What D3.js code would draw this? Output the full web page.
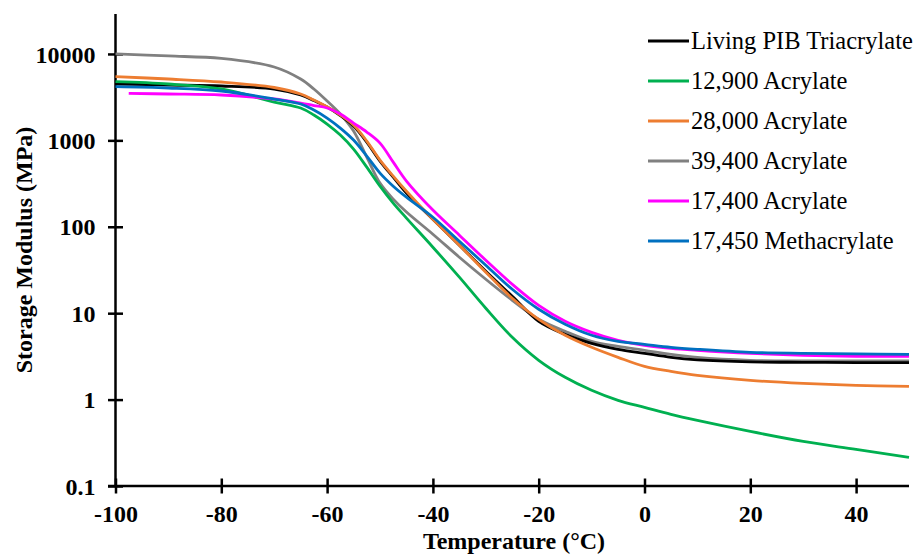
<!DOCTYPE html>
<html>
<head>
<meta charset="utf-8">
<script src="https://cdn.jsdelivr.net/npm/d3@7/dist/d3.min.js"></script>
<style>
  body { margin: 0; background: #fff; }
  svg { display: block; }
  .tick text { font-family: "Liberation Serif", "Times New Roman", serif; font-weight: bold; font-size: 24px; fill: #000; }
  .title { font-family: "Liberation Serif", "Times New Roman", serif; font-weight: bold; font-size: 24px; fill: #000; }
  .legend text { font-family: "Liberation Serif", "Times New Roman", serif; font-size: 24.5px; fill: #000; }
</style>
</head>
<body>
<div id="chart"></div>
<script>
// temperatures (°C) shared by most curves
var temps = [-100, -90, -80, -70, -65, -62.5, -60, -57.5, -55, -52.5, -50, -47.5, -45, -40, -35, -30, -25, -20, -15, -10, -5, 0, 5, 10, 20, 30, 40, 50];
// the 17,400 acrylate trace starts a little later
var tempsPink = [-97.5, -90, -80, -70, -65, -62.5, -60, -57.5, -55, -52.5, -50, -47.5, -45, -40, -35, -30, -25, -20, -15, -10, -5, 0, 5, 10, 20, 30, 40, 50];

// storage modulus (MPa)
var livingPIB = [4491, 4373, 4258, 3930, 3349, 2892, 2432, 1938, 1464, 956, 576, 375, 245, 122, 61.2, 30.6, 15.7, 8.06, 5.69, 4.48, 3.82, 3.43, 3.08, 2.88, 2.73, 2.70, 2.68, 2.68];
var acr12900  = [4775, 4491, 3930, 2778, 2367, 1965, 1545, 1152, 793, 490, 295, 188, 126, 58, 26.1, 11.4, 5.26, 2.85, 1.81, 1.28, 0.979, 0.812, 0.674, 0.574, 0.428, 0.328, 0.265, 0.214];
var acr28000  = [5458, 5131, 4737, 4091, 3440, 2931, 2451, 1965, 1504, 981, 591, 386, 258, 122, 61.2, 29.8, 14.9, 8.5, 5.55, 4.03, 3.08, 2.42, 2.12, 1.91, 1.67, 1.54, 1.46, 1.42];
var acr39400  = [10000, 9480, 8870, 7070, 5130, 3930, 2853, 2017, 1281, 640, 320, 209, 148, 82, 44.4, 24.7, 14.1, 8.5, 6.17, 4.72, 4.13, 3.72, 3.34, 3.08, 2.85, 2.81, 2.81, 2.81];
var acr17400  = [3505, 3440, 3349, 3010, 2705, 2531, 2367, 2017, 1586, 1248, 930, 560, 338, 156, 79.9, 41.0, 21.6, 12.3, 8.06, 6.0, 4.85, 4.25, 3.92, 3.72, 3.43, 3.25, 3.17, 3.17];
var meth17450 = [4178, 4036, 3726, 3010, 2634, 2245, 1813, 1388, 1008, 658, 418, 295, 220, 129, 68.1, 35.9, 18.9, 11.1, 7.44, 5.55, 4.72, 4.36, 4.03, 3.82, 3.52, 3.43, 3.38, 3.34];

var seriesNames = ["Living PIB Triacrylate", "12,900 Acrylate", "28,000 Acrylate", "39,400 Acrylate", "17,400 Acrylate", "17,450 Methacrylate"];
var seriesColors = ["#000000", "#00b050", "#ed7d31", "#808080", "#ff00ff", "#0070c0"];
var seriesValues = [livingPIB, acr12900, acr28000, acr39400, acr17400, meth17450];
var seriesTemps = [temps, temps, temps, temps, tempsPink, temps];

var yTicks = [0.1, 1, 10, 100, 1000, 10000];
var xTicks = [-100, -80, -60, -40, -20, 0, 20, 40];

var width = 916, height = 555;
var svg = d3.select("#chart").append("svg")
    .attr("width", width)
    .attr("height", height);

var x = d3.scaleLinear().domain([-100, 50]).range([115.5, 909]);
var y = d3.scaleLog().domain([0.1, 29000]).range([486, 14]);

// y axis, ticks cross the axis line
var yAxis = svg.append("g")
    .attr("transform", "translate(" + x(-100) + ",0)")
    .call(d3.axisLeft(y).tickValues(yTicks).tickSize(7.5).tickFormat(function(d) { return String(d); }));
yAxis.select(".domain").remove();
yAxis.selectAll(".tick line").attr("x1", 7.5).attr("x2", -7.5).attr("stroke-width", 2.5);
yAxis.selectAll(".tick text").attr("x", -20).attr("dy", "0.34em");
svg.append("line")
    .attr("x1", x(-100)).attr("x2", x(-100))
    .attr("y1", 14).attr("y2", y(0.1) + 1.2)
    .attr("stroke", "#000").attr("stroke-width", 2.5);

// x axis
var xAxis = svg.append("g")
    .attr("transform", "translate(0," + y(0.1) + ")")
    .call(d3.axisBottom(x).tickValues(xTicks).tickSize(7.5).tickFormat(function(d) { return String(d); }));
xAxis.select(".domain").remove();
xAxis.selectAll(".tick line").attr("y1", -7.5).attr("y2", 7.5).attr("stroke-width", 2.5);
xAxis.selectAll(".tick text").attr("y", 36).attr("dy", 0);
svg.append("line")
    .attr("x1", 108).attr("x2", 909)
    .attr("y1", y(0.1)).attr("y2", y(0.1))
    .attr("stroke", "#000").attr("stroke-width", 2.5);

// titles
svg.append("text").attr("class", "title")
    .attr("x", 514).attr("y", 549)
    .attr("text-anchor", "middle")
    .text("Temperature (°C)");
svg.append("text").attr("class", "title")
    .attr("transform", "translate(32,250) rotate(-90)")
    .attr("text-anchor", "middle")
    .text("Storage Modulus (MPa)");

// curves: gray goes under black so black stays visible where they meet
var line = d3.line()
    .x(function(d) { return x(d[0]); })
    .y(function(d) { return y(d[1]); })
    .curve(d3.curveCatmullRom.alpha(0.5));

var drawOrder = [3, 0, 1, 2, 4, 5];
drawOrder.forEach(function(i) {
    var pts = seriesTemps[i].map(function(t, j) { return [t, seriesValues[i][j]]; });
    svg.append("path")
        .datum(pts)
        .attr("d", line)
        .attr("fill", "none")
        .attr("stroke", seriesColors[i])
        .attr("stroke-width", 2.8);
});

// legend
var legend = svg.append("g").attr("class", "legend");
seriesNames.forEach(function(name, i) {
    var cy = 41 + i * 40;
    legend.append("line")
        .attr("x1", 648).attr("x2", 689)
        .attr("y1", cy).attr("y2", cy)
        .attr("stroke", seriesColors[i]).attr("stroke-width", 2.8);
    legend.append("text")
        .attr("x", 691).attr("y", cy + 8)
        .text(name);
});
</script>
</body>
</html>
